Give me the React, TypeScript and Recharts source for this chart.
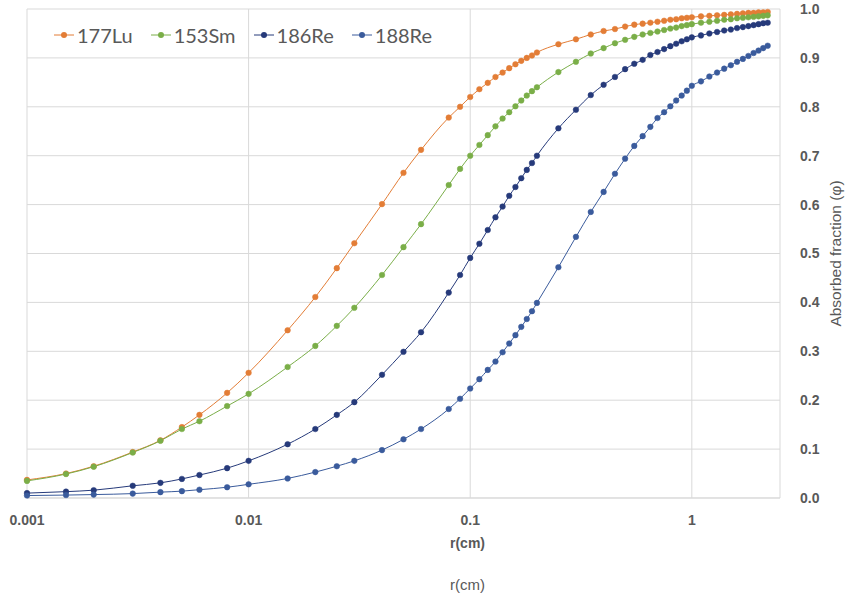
import { LineChart, Line, XAxis, YAxis, CartesianGrid, Label } from "recharts";

// radius in cm (shared by all series)
const R_CM = [
  0.001, 0.0015, 0.002, 0.003, 0.004, 0.005, 0.006, 0.008, 0.01, 0.015, 0.02, 0.025, 0.03,
  0.04, 0.05, 0.06, 0.08, 0.09, 0.1, 0.11, 0.12, 0.13, 0.14, 0.15, 0.16, 0.17, 0.18, 0.19,
  0.2, 0.25, 0.3, 0.35, 0.4, 0.45, 0.5, 0.55, 0.6, 0.65, 0.7, 0.75, 0.8, 0.85, 0.9, 0.95,
  1.0, 1.1, 1.2, 1.3, 1.4, 1.5, 1.6, 1.7, 1.8, 1.9, 2.0, 2.1, 2.2,
];

const LU177 = [
  0.037, 0.05, 0.065, 0.094, 0.118, 0.145, 0.17, 0.215, 0.256, 0.343, 0.411, 0.47, 0.521,
  0.601, 0.665, 0.712, 0.778, 0.8, 0.82, 0.836, 0.849, 0.861, 0.87, 0.879, 0.887, 0.894, 0.9,
  0.905, 0.911, 0.928, 0.938, 0.948, 0.955, 0.959, 0.964, 0.968, 0.97, 0.972, 0.974, 0.976,
  0.978, 0.979, 0.981, 0.982, 0.983, 0.985, 0.986, 0.987, 0.988, 0.989, 0.99, 0.991, 0.992,
  0.992, 0.993, 0.993, 0.994,
];

const SM153 = [
  0.035, 0.049, 0.064, 0.093, 0.117, 0.141, 0.157, 0.188, 0.213, 0.268, 0.311, 0.352, 0.389,
  0.456, 0.513, 0.56, 0.64, 0.673, 0.7, 0.722, 0.742, 0.76, 0.776, 0.789, 0.801, 0.813, 0.823,
  0.832, 0.84, 0.871, 0.892, 0.909, 0.92, 0.93, 0.937, 0.943, 0.948, 0.951, 0.954, 0.957,
  0.96, 0.962, 0.965, 0.967, 0.969, 0.972, 0.974, 0.976, 0.978, 0.979, 0.981, 0.982, 0.983,
  0.984, 0.985, 0.986, 0.987,
];

const RE186 = [
  0.01, 0.013, 0.016, 0.025, 0.031, 0.039, 0.047, 0.061, 0.076, 0.11, 0.141, 0.17, 0.196,
  0.252, 0.299, 0.339, 0.42, 0.456, 0.491, 0.52, 0.548, 0.574, 0.596, 0.618, 0.636, 0.654,
  0.671, 0.685, 0.7, 0.756, 0.794, 0.824, 0.845, 0.861, 0.877, 0.888, 0.896, 0.906, 0.912,
  0.918, 0.924, 0.929, 0.934, 0.938, 0.942, 0.946, 0.95, 0.953, 0.956, 0.958, 0.961, 0.963,
  0.965, 0.967, 0.969, 0.971, 0.972,
];

const RE188 = [
  0.005, 0.006, 0.007, 0.009, 0.012, 0.014, 0.017, 0.022, 0.028, 0.04, 0.053, 0.065, 0.076,
  0.098, 0.12, 0.141, 0.182, 0.203, 0.224, 0.243, 0.262, 0.279, 0.298, 0.316, 0.333, 0.35,
  0.366, 0.382, 0.399, 0.472, 0.534, 0.585, 0.626, 0.663, 0.694, 0.72, 0.74, 0.759, 0.777,
  0.789, 0.801, 0.813, 0.823, 0.833, 0.843, 0.852, 0.862, 0.87, 0.878, 0.885, 0.892, 0.898,
  0.904, 0.91, 0.915, 0.92, 0.925,
];

const X_TICKS = [0.001, 0.01, 0.1, 1];
const Y_TICKS = [0, 0.1, 0.2, 0.3, 0.4, 0.5, 0.6, 0.7, 0.8, 0.9, 1.0];

const SERIES = [
  { key: "lu177", name: "177Lu", color: "#E37D36", values: LU177 },
  { key: "sm153", name: "153Sm", color: "#7AAE48", values: SM153 },
  { key: "re186", name: "186Re", color: "#263A7A", values: RE186 },
  { key: "re188", name: "188Re", color: "#3A5B9C", values: RE188 },
];

const data = R_CM.map((r, i) => {
  const row: Record<string, number> = { r };
  SERIES.forEach((s) => {
    row[s.key] = s.values[i];
  });
  return row;
});

const GREY = "#595959";
const tickStyle = { fontSize: 14, fontWeight: 700, fill: GREY, fontFamily: "Liberation Sans" };

function ChartLegend() {
  return (
    <div
      style={{
        position: "absolute",
        left: 54,
        top: 22,
        display: "flex",
        gap: 18,
        fontFamily: "Lato",
        fontSize: 20,
        color: GREY,
        lineHeight: "26px",
      }}
    >
      {SERIES.map((s) => (
        <div key={s.key} style={{ display: "flex", alignItems: "center" }}>
          <svg width={20} height={10}>
            <line x1={0} y1={5} x2={20} y2={5} stroke={s.color} strokeWidth={1} />
            <circle cx={10} cy={5} r={3} fill={s.color} />
          </svg>
          <span style={{ marginLeft: 3 }}>{s.name}</span>
        </div>
      ))}
    </div>
  );
}

export default function App() {
  return (
    <div style={{ position: "absolute", left: 0, top: 0, width: 846, height: 598, background: "#fff" }}>
      <LineChart width={846} height={598} data={data} margin={{ top: 9, right: 0, bottom: 0, left: 27 }}>
        <CartesianGrid stroke="#d9d9d9" strokeWidth={1} />
        <XAxis
          dataKey="r"
          type="number"
          scale="log"
          domain={[0.001, 2.5]}
          ticks={X_TICKS}
          height={100}
          tickLine={false}
          axisLine={{ stroke: "#d9d9d9" }}
          tickMargin={11}
          tick={tickStyle}
        >
          <Label
            content={({ viewBox }: any) => {
              const cx = viewBox.x + viewBox.width * 0.585;
              return (
                <g fontFamily="Liberation Sans" fill={GREY}>
                  <text x={cx} y={viewBox.y + 50} textAnchor="middle" fontSize={14} fontWeight={700}>
                    r(cm)
                  </text>
                  <text x={cx} y={viewBox.y + 92} textAnchor="middle" fontSize={15}>
                    r(cm)
                  </text>
                </g>
              );
            }}
          />
        </XAxis>
        <YAxis
          orientation="right"
          type="number"
          domain={[0, 1]}
          ticks={Y_TICKS}
          width={66}
          tickLine={false}
          axisLine={false}
          tickMargin={14}
          tick={tickStyle}
          tickFormatter={(v: number) => v.toFixed(1)}
        >
          <Label
            content={({ viewBox }: any) => {
              const x = viewBox.x + 55;
              const y = viewBox.y + viewBox.height / 2;
              return (
                <text
                  x={x}
                  y={y}
                  transform={`rotate(-90, ${x}, ${y})`}
                  textAnchor="middle"
                  dominantBaseline="central"
                  fontSize={15.5}
                  fontFamily="Liberation Sans"
                  fill={GREY}
                >
                  Absorbed fraction (φ)
                </text>
              );
            }}
          />
        </YAxis>
        {SERIES.map((s) => (
          <Line
            key={s.key}
            dataKey={s.key}
            name={s.name}
            type="monotone"
            stroke={s.color}
            strokeWidth={1}
            dot={{ r: 2.8, fill: s.color, stroke: s.color, strokeWidth: 0.5 }}
            activeDot={false}
            isAnimationActive={false}
          />
        ))}
      </LineChart>
      <ChartLegend />
    </div>
  );
}
